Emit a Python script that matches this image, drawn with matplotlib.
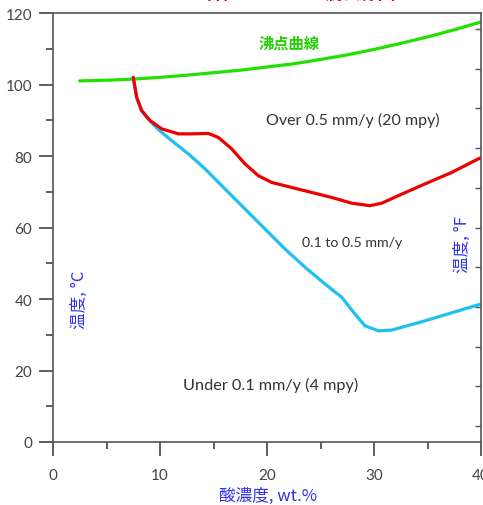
import matplotlib
matplotlib.use("Agg")
import matplotlib.pyplot as plt
from matplotlib.ticker import MultipleLocator

plt.rcParams['font.family'] = ['Lato', 'Noto Sans CJK JP', 'DejaVu Sans']

# Boiling point curve
boil_x = [2.5, 5, 7.5, 10, 12.5, 15, 17.5, 20, 22.5, 25, 27.5, 30, 32.5, 35, 37.5, 40]
boil_y = [101, 101.2, 101.5, 102, 102.6, 103.3, 104, 104.9, 105.8, 107, 108.3, 109.8, 111.5, 113.3, 115.3, 117.5]

# 0.5 mm/y iso-corrosion line (red)
red_x = [7.5, 7.82, 8.29, 9.07, 10.16, 11.71, 12.96, 14.52, 15.45, 16.70, 17.94, 19.19, 20.44,
         22.31, 24.18, 26.05, 27.92, 29.63, 30.72, 32.27, 34.77, 37.26, 39.75, 40.0]
red_y = [102.0, 96.4, 92.7, 89.9, 87.6, 86.2, 86.2, 86.3, 85.2, 82.0, 77.8, 74.5, 72.6,
         71.2, 69.8, 68.4, 66.8, 66.1, 66.8, 68.9, 72.2, 75.4, 79.2, 79.5]

# 0.1 mm/y iso-corrosion line (blue)
blue_x = [7.5, 7.82, 8.25, 8.7, 9.84, 11.09, 12.65, 14.21, 16.07, 17.94, 19.81, 21.68, 23.55,
          25.42, 26.98, 28.22, 29.16, 30.40, 31.65, 34.77, 37.88, 40.0]
blue_y = [102.0, 96.4, 92.8, 91.0, 87.4, 84.3, 80.6, 76.4, 70.8, 65.2, 59.6, 54.0, 48.9,
          44.2, 40.5, 35.8, 32.5, 31.1, 31.3, 33.9, 36.7, 38.6]

fig = plt.figure(figsize=(4.83, 5.06), dpi=100)
ax = fig.add_axes([53/483, 63/506, 428/483, 429/506])

line_kw = dict(lw=2.3, solid_capstyle='round', solid_joinstyle='round')
ax.plot(boil_x, boil_y, color='#22e000', **line_kw)
ax.plot(blue_x, blue_y, color='#1ec0f0', **line_kw)
ax.plot(red_x, red_y, color='#ee0000', **line_kw)

ax.set_xlim(0, 40)
ax.set_ylim(0, 120)
ax.xaxis.set_major_locator(MultipleLocator(10))
ax.xaxis.set_minor_locator(MultipleLocator(5))
ax.yaxis.set_major_locator(MultipleLocator(20))
ax.yaxis.set_minor_locator(MultipleLocator(10))
ax.tick_params(which='major', direction='out', length=10, width=1.2, color='#444444',
               labelsize=11, labelcolor='#444444', pad=5)
ax.tick_params(axis='x', which='major', pad=9)
ax.tick_params(which='minor', direction='out', length=5, width=1.2, color='#444444')
for s in ax.spines.values():
    s.set_color('#555555')
    s.set_linewidth(1.2)

# secondary Fahrenheit axis (ticks only)
sec = ax.secondary_yaxis('right', functions=(lambda c: c * 9 / 5 + 32, lambda f: (f - 32) * 5 / 9))
sec.yaxis.set_major_locator(MultipleLocator(20))
sec.tick_params(direction='in', length=4, width=1.0, color='#555555', labelright=False)
sec.spines['right'].set_visible(False)

txt_kw = dict(color='#333333', ha='center', va='center')
ax.text(28, 90.3, 'Over 0.5 mm/y (20 mpy)', fontsize=11.5, **txt_kw)
ax.text(28, 56, '0.1 to 0.5 mm/y', fontsize=10.2, **txt_kw)
ax.text(20.3, 16.2, 'Under 0.1 mm/y (4 mpy)', fontsize=11.7, **txt_kw)

cjk = ['Noto Sans CJK JP', 'DejaVu Sans']
ax.text(22.1, 111.6, '沸点曲線', color='#22d000', fontsize=11, fontweight='bold',
        ha='center', va='center', family=cjk)

blue_lbl = '#3030f0'
ax.text(2.5, 40, '温度, °C', color=blue_lbl, fontsize=12, rotation=90, ha='center', va='center',
        family=cjk)
ax.text(38.3, 55.5, '温度, °F', color=blue_lbl, fontsize=12, rotation=90, ha='center', va='center',
        family=cjk)
fig.text(268/483, 1 - 496/506, '酸濃度, wt.%', color=blue_lbl, fontsize=12, ha='center', va='center',
         family=cjk)

fig.text(300/483, 1 + 6/506, '各種の酸による腐食線図', color='#dd0000', fontsize=12.5, fontweight='bold',
         ha='center', va='center', family=cjk)

fig.savefig('out.png', dpi=100)
